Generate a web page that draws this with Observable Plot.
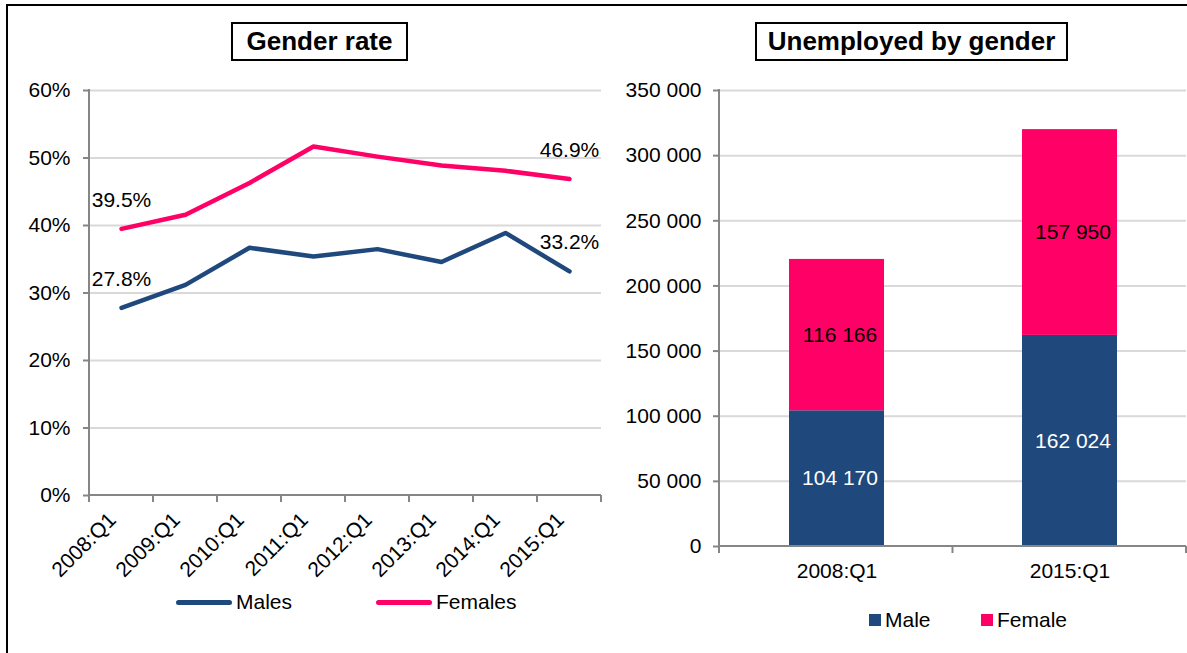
<!DOCTYPE html>
<html>
<head>
<meta charset="utf-8">
<script src="https://cdn.jsdelivr.net/npm/d3@7"></script>
<script src="https://cdn.jsdelivr.net/npm/@observablehq/plot@0.6"></script>
<style>
  html, body { margin: 0; padding: 0; background: #fff; }
  #page { position: relative; width: 1187px; height: 653px; overflow: hidden; background: #fff;
          font-family: "Liberation Sans", Arial, sans-serif; color: #000; }
  .frame { position: absolute; left: 6px; top: 4px; width: 1190px; height: 660px;
           border-top: 2px solid #000; border-left: 2px solid #000; }
  .title { position: absolute; top: 22px; height: 35px; border: 2px solid #000; box-sizing: content-box;
           font-weight: bold; font-size: 26px; line-height: 35px; text-align: center; background: #fff; }
  .plot { position: absolute; }
  .legend { position: absolute; font-size: 21px; display: flex; align-items: center; white-space: nowrap; }
  .sw-line { display: inline-block; width: 56px; height: 5px; border-radius: 3px; margin-right: 4px; }
  .sw-box { display: inline-block; width: 12px; height: 12px; margin-right: 4px; }
</style>
</head>
<body>
<div id="page">
  <div class="frame"></div>
  <div class="title" style="left:231px; width:173px;">Gender rate</div>
  <div class="title" style="left:755px; width:309px;">Unemployed by gender</div>
  <div id="left" class="plot" style="left:0px; top:60px;"></div>
  <div id="right" class="plot" style="left:600px; top:60px;"></div>
  <div class="legend" style="left:176px; top:590px;">
    <span class="sw-line" style="background:#1F497D"></span><span>Males</span>
  </div>
  <div class="legend" style="left:376px; top:590px;">
    <span class="sw-line" style="background:#FF0066"></span><span>Females</span>
  </div>
  <div class="legend" style="left:869px; top:608px;">
    <span class="sw-box" style="background:#1F497D"></span><span>Male</span>
  </div>
  <div class="legend" style="left:981px; top:608px;">
    <span class="sw-box" style="background:#FF0066"></span><span>Female</span>
  </div>
</div>
<script>
// ---- Data ----
const quarters = ["2008:Q1", "2009:Q1", "2010:Q1", "2011:Q1", "2012:Q1", "2013:Q1", "2014:Q1", "2015:Q1"];
const malesRate = [27.8, 31.2, 36.7, 35.4, 36.5, 34.6, 38.9, 33.2];
const femalesRate = [39.5, 41.6, 46.3, 51.7, 50.2, 48.9, 48.1, 46.9];
const rateTicks = [0, 10, 20, 30, 40, 50, 60];

const barQuarters = ["2008:Q1", "2015:Q1"];
const maleUnemployed = [104170, 162024];
const femaleUnemployed = [116166, 157950];
const countTicks = [0, 50000, 100000, 150000, 200000, 250000, 300000, 350000];

const NAVY = "#1F497D", PINK = "#FF0066", GRID = "#D9D9D9", AXIS = "#868686";
const FONT = "'Liberation Sans', Arial, sans-serif";

const rateRows = [
  ...quarters.map((q, i) => ({q, gender: "Males", v: malesRate[i]})),
  ...quarters.map((q, i) => ({q, gender: "Females", v: femalesRate[i]}))
];
const endRows = rateRows.filter(d => d.q === quarters[0] || d.q === quarters[quarters.length - 1]);

const barRows = [
  ...barQuarters.map((q, i) => ({q, gender: "Male", v: maleUnemployed[i], mid: maleUnemployed[i] / 2})),
  ...barQuarters.map((q, i) => ({q, gender: "Female", v: femaleUnemployed[i], mid: maleUnemployed[i] + femaleUnemployed[i] / 2}))
];

const spaceFmt = d3.formatLocale({decimal: ".", thousands: " ", grouping: [3], currency: ["", ""]}).format(",d");

// axis lines + ticks at band boundaries
function axisFrame(n) {
  return (index, scales, values, dims) => {
    const g = d3.create("svg:g").attr("stroke", AXIS).attr("stroke-width", 2).attr("fill", "none");
    const x0 = dims.marginLeft, x1 = dims.width - dims.marginRight;
    const y0 = dims.marginTop, y1 = dims.height - dims.marginBottom;
    g.append("line").attr("x1", x0).attr("x2", x0).attr("y1", y0 - 1).attr("y2", y1);
    g.append("line").attr("x1", x0).attr("x2", x1).attr("y1", y1).attr("y2", y1);
    for (let k = 0; k <= n; k++) {
      const x = x0 + k * (x1 - x0) / n;
      g.append("line").attr("x1", x).attr("x2", x).attr("y1", y1).attr("y2", y1 + 7);
    }
    return g.node();
  };
}

// ---- Left: Gender rate ----
const left = Plot.plot({
  width: 605, height: 540,
  marginLeft: 89, marginRight: 4, marginTop: 30, marginBottom: 105,
  style: {fontFamily: FONT, fontSize: "21px", color: "#000", background: "transparent", overflow: "visible"},
  x: {type: "point", domain: quarters, padding: 0.5},
  y: {domain: [0, 60]},
  marks: [
    Plot.ruleY(rateTicks.filter(t => t > 0), {stroke: GRID, strokeWidth: 2}),
    axisFrame(quarters.length),
    Plot.axisY({ticks: rateTicks, tickFormat: d => d + "%", tickSize: 6, tickPadding: 13, stroke: AXIS, strokeWidth: 2, fontSize: 21, label: null}),
    Plot.axisX({tickRotate: -45, tickSize: 0, tickPadding: 17, dx: -9, dy: 4, fontSize: 21, label: null}),
    Plot.line(rateRows, {x: "q", y: "v", z: "gender", stroke: d => d.gender === "Males" ? NAVY : PINK, strokeWidth: 4.5, strokeLinejoin: "round", strokeLinecap: "round"}),
    Plot.text(endRows, {x: "q", y: "v", text: d => d.v.toFixed(1) + "%", dy: -29, fontSize: 21, fill: "#000"})
  ]
});
document.getElementById("left").appendChild(left);

// ---- Right: Unemployed by gender ----
const right = Plot.plot({
  width: 587, height: 540,
  marginLeft: 119, marginRight: 1, marginTop: 30, marginBottom: 54,
  style: {fontFamily: FONT, fontSize: "21px", color: "#000", background: "transparent", overflow: "visible"},
  x: {type: "band", domain: barQuarters, paddingInner: 0.594, paddingOuter: 0.297},
  y: {domain: [0, 350000]},
  color: {domain: ["Male", "Female"], range: [NAVY, PINK]},
  marks: [
    Plot.ruleY(countTicks.filter(t => t > 0), {stroke: GRID, strokeWidth: 2}),
    Plot.barY(barRows, {x: "q", y: "v", fill: "gender", order: ["Male", "Female"]}),
    axisFrame(barQuarters.length),
    Plot.axisY({ticks: countTicks, tickFormat: spaceFmt, tickSize: 6, tickPadding: 12, stroke: AXIS, strokeWidth: 2, fontSize: 21, label: null}),
    Plot.axisX({tickSize: 0, tickPadding: 17, fontSize: 21, label: null}),
    Plot.text(barRows.filter(d => d.gender === "Male"), {x: "q", y: "mid", text: d => spaceFmt(d.v), fill: "#fff", fontSize: 21, dx: 3}),
    Plot.text(barRows.filter(d => d.gender === "Female"), {x: "q", y: "mid", text: d => spaceFmt(d.v), fill: "#000", fontSize: 21, dx: 3})
  ]
});
document.getElementById("right").appendChild(right);
</script>
</body>
</html>
